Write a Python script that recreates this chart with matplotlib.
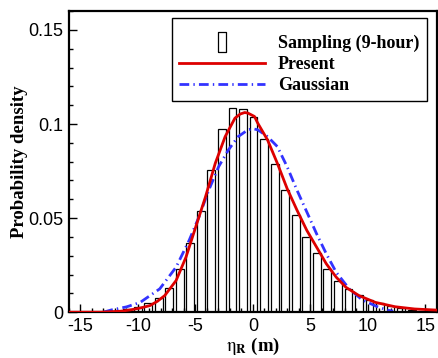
import matplotlib
matplotlib.use("Agg")
import matplotlib.pyplot as plt
from matplotlib.lines import Line2D
from matplotlib.ticker import MultipleLocator

plt.rcParams["font.family"] = ["Liberation Sans", "DejaVu Sans"]
plt.rcParams["axes.unicode_minus"] = False
plt.rcParams["mathtext.fontset"] = "stix"

bin_centers = [-12.78, -11.86, -10.94, -10.02, -9.11, -8.19, -7.27, -6.36, -5.44,
               -4.52, -3.61, -2.69, -1.77, -0.85, 0.06, 0.98, 1.90, 2.81, 3.73,
               4.65, 5.57, 6.48, 7.40, 8.32, 9.23, 10.15, 11.07, 11.98, 12.90,
               13.82, 14.74]
bin_density = [0.0003, 0.0008, 0.0015, 0.0029, 0.0049, 0.0074, 0.0129, 0.0230,
               0.0367, 0.0536, 0.0755, 0.0972, 0.1084, 0.1080, 0.1036, 0.0919,
               0.0785, 0.0648, 0.0519, 0.0399, 0.0314, 0.0228, 0.0164, 0.0124,
               0.0093, 0.0065, 0.0047, 0.0034, 0.0022, 0.0014, 0.0008]

# "Present" model curve
present_x = [-16.0, -13.2, -11.5, -10.66, -9.8, -8.95, -8.3, -7.67, -6.68, -5.82,
             -4.97, -4.12, -3.27, -2.41, -1.56, -1.1, -0.71, -0.43, 0.14, 0.43,
             1.28, 2.13, 2.98, 3.84, 4.69, 5.54, 6.39, 7.25, 8.1, 9.23, 10.66,
             12.36, 14.07, 16.0]
present_y = [0.0, 0.0, 0.0005, 0.0012, 0.0022, 0.0035, 0.0058, 0.0088, 0.0168,
             0.0292, 0.0453, 0.0613, 0.0791, 0.0933, 0.1031, 0.1053, 0.1061,
             0.1058, 0.1040, 0.1004, 0.0915, 0.0791, 0.0657, 0.0542, 0.0435,
             0.0346, 0.0257, 0.0186, 0.0132, 0.0088, 0.0052, 0.0029, 0.0017, 0.0011]

# Gaussian fit
gauss_x = [-13.0, -12.3, -11.0, -9.8, -8.1, -6.68, -5.54, -4.69, -3.84, -2.98,
           -2.13, -1.28, -0.43, 0.0, 0.43, 1.28, 2.13, 2.98, 3.84, 4.69, 5.54,
           6.39, 7.25, 8.38, 9.52, 10.94, 11.8, 12.2]
gauss_y = [0.0, 0.0012, 0.0028, 0.0052, 0.0124, 0.0239, 0.0382, 0.0506, 0.0648,
           0.0773, 0.0862, 0.0933, 0.0969, 0.0975, 0.0969, 0.0933, 0.0880, 0.0773,
           0.0648, 0.0533, 0.0417, 0.0310, 0.0212, 0.0124, 0.0065, 0.0026, 0.0010,
           0.0005]

fig = plt.figure(figsize=(4.39, 3.58), dpi=100)
ax = fig.add_axes([0.157, 0.128, 0.838, 0.841])

ax.bar(bin_centers, bin_density, width=0.68, facecolor="white",
       edgecolor="black", linewidth=0.9, zorder=1)
ax.plot(present_x, present_y, color="#dd0000", lw=2.0, zorder=3)
ax.plot(gauss_x, gauss_y, color="#3333ff", lw=2.0,
        ls=(0, (3.5, 1.5, 0.5, 1.5)), zorder=2)

ax.set_xlim(-16, 16)
ax.set_ylim(0, 0.16)
ax.set_xticks([-15, -10, -5, 0, 5, 10, 15])
ax.set_yticks([0, 0.05, 0.1, 0.15])
ax.set_yticklabels(["0", "0.05", "0.1", "0.15"])
ax.xaxis.set_minor_locator(MultipleLocator(1))
ax.yaxis.set_minor_locator(MultipleLocator(0.01))
ax.tick_params(which="both", direction="in", top=False, right=False,
               labelsize=13, width=1.0, pad=4)
ax.tick_params(which="major", length=6)
ax.tick_params(which="minor", length=3)
for s in ax.spines.values():
    s.set_linewidth(1.6)

serif = {"family": ["Liberation Serif", "DejaVu Serif"], "weight": "bold",
         "size": 13.5}
ax.set_ylabel("Probability density", fontdict=serif, labelpad=0)
ax.set_xlabel(r"$\mathrm{\eta}_{\mathbf{R}}$ (m)", fontdict=serif, labelpad=1)

rect = [(-0.35, -1), (0.35, -1), (0.35, 1), (-0.35, 1), (-0.35, -1)]
handles = [
    Line2D([], [], ls="none", marker=rect, markersize=15, mfc="white",
           mec="black", mew=0.9),
    Line2D([], [], color="#dd0000", lw=2.0),
    Line2D([], [], color="#3333ff", lw=2.0, ls=(0, (3.5, 1.5, 0.5, 1.5))),
]
labels = ["Sampling (9-hour)", "Present", "Gaussian"]
# blank tiny title only to give the box the extra top margin seen in the original
leg = ax.legend(handles, labels, loc="upper right",
                bbox_to_anchor=(0.973, 0.977), borderaxespad=0,
                prop={"family": "Liberation Serif", "weight": "bold", "size": 13},
                title=" ", title_fontsize=4,
                frameon=True, fancybox=False, edgecolor="black", framealpha=1,
                handlelength=4.75, handletextpad=0.72, labelspacing=0.22,
                borderpad=0.42, numpoints=1)
leg.get_frame().set_linewidth(1.0)

fig.savefig("out.png", dpi=100)
